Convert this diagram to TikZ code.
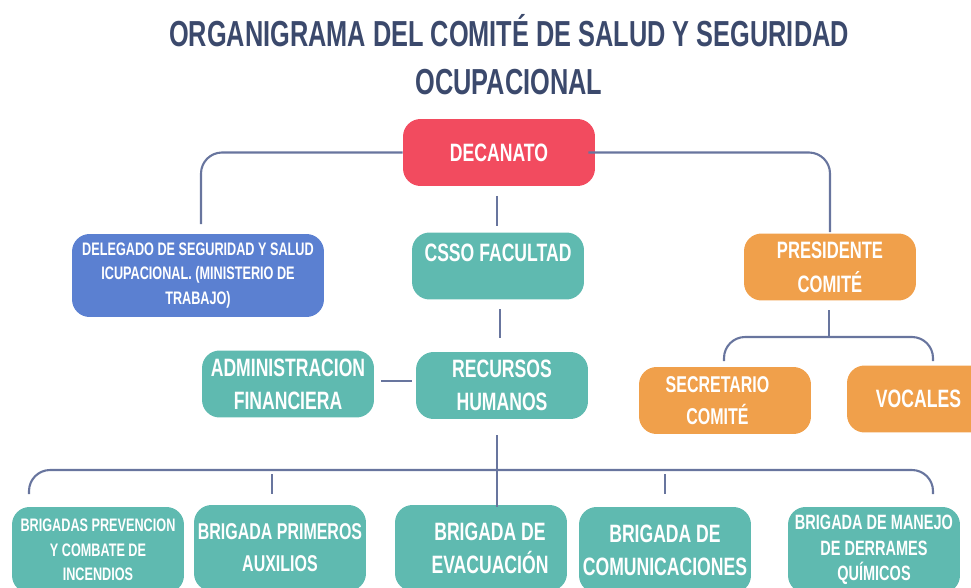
\documentclass[tikz,border=0pt]{standalone}
\usepackage{fontspec}
\setmainfont{Liberation Sans}[FakeStretch=0.7]
\usepackage{tikz}

\definecolor{navy}{RGB}{59,73,108}
\definecolor{linkgray}{RGB}{104,117,158}
\definecolor{redbox}{RGB}{242,75,95}
\definecolor{bluebox}{RGB}{91,128,209}
\definecolor{tealbox}{RGB}{95,186,176}
\definecolor{orangebox}{RGB}{240,160,75}

\tikzset{
    box/.style={rounded corners=10pt, text=white, font=\bfseries, align=center,
        minimum width=3.44cm, minimum height=1.34cm, inner sep=2pt},
    link/.style={draw=linkgray, line width=1.2pt, rounded corners=12pt},
    big/.style={font=\bfseries\fontsize{14.3}{18.8}\selectfont},
    small/.style={font=\bfseries\fontsize{10.3}{14}\selectfont}
}

\begin{document}
\begin{tikzpicture}[x=0.02cm, y=-0.02cm]
    \useasboundingbox (0,0) rectangle (971,588);
    \clip (0,0) rectangle (971,588);

    % Title
    \node[text=navy, font=\bfseries\fontsize{20.6}{27.3}\selectfont, align=center] (title) at (509,55)
        {ORGANIGRAMA DEL COMITÉ DE SALUD Y SEGURIDAD\\OCUPACIONAL};

    % Connector ends
    \coordinate (deleTop) at (201,224);
    \coordinate (presTop) at (830,232);
    \coordinate (decaBot) at (497,196);
    \coordinate (cssoTop) at (497,226);
    \coordinate (cssoBot) at (500,309);
    \coordinate (rrhhTop) at (500,338);
    \coordinate (adminR) at (381,381);
    \coordinate (rrhhL) at (412,381);
    \coordinate (presBot) at (829,310);
    \coordinate (presBus) at (829,337);
    \coordinate (secreTop) at (724,361);
    \coordinate (vocTop) at (933,361);
    \coordinate (rrhhBot) at (497,435);
    \coordinate (evacTop) at (497,507);
    \coordinate (brigBus) at (497,470);
    \coordinate (prevTop) at (29,494);
    \coordinate (manejoTop) at (933,494);
    \coordinate (auxTop) at (272,494);
    \coordinate (auxBus) at (272,474);
    \coordinate (comTop) at (665,494);
    \coordinate (comBus) at (665,474);

    % Boxes
    \node[box, big, fill=redbox, minimum width=3.84cm] (deca) at (499,152.5) {DECANATO};
    \node[box, small, fill=bluebox, minimum width=5.04cm, minimum height=1.66cm] (dele) at (198,275.5)
        {DELEGADO DE SEGURIDAD Y SALUD\\ICUPACIONAL. (MINISTERIO DE\\TRABAJO)};
    \node[box, big, fill=tealbox] (csso) at (498,266) {CSSO FACULTAD\\[-4pt]};
    \node[box, fill=orangebox, font=\bfseries\fontsize{13.5}{19.3}\selectfont] (pres) at (830,267) {PRESIDENTE\\COMITÉ};
    \node[box, big, fill=tealbox] (admin) at (288,384) {ADMINISTRACION\\FINANCIERA};
    \node[box, big, fill=tealbox] (rrhh) at (502,385.5) {RECURSOS\\HUMANOS};
    \node[box, fill=orangebox, font=\bfseries\fontsize{13}{18.2}\selectfont] (secre) at (725,400.5) {SECRETARIO\hspace*{0.3cm}\\COMITÉ\hspace*{0.3cm}};
    \node[box, big, fill=orangebox, minimum width=2.86cm] (voc) at (918.5,399) {VOCALES};

    % Brigades
    \node[box, small, fill=tealbox, minimum height=1.72cm] (prev) at (98,550)
        {BRIGADAS PREVENCION\\Y COMBATE DE\\INCENDIOS};
    \node[box, fill=tealbox, minimum height=1.72cm, font=\bfseries\fontsize{13}{18.2}\selectfont] (aux) at (280,548)
        {BRIGADA PRIMEROS\\AUXILIOS};
    \node[box, big, fill=tealbox, minimum height=1.72cm] (evac) at (481,548)
        {\hspace*{0.36cm}BRIGADA DE\\\hspace*{0.36cm}EVACUACIÓN};
    \node[box, big, fill=tealbox, minimum height=1.72cm] (com) at (665,550)
        {BRIGADA DE\\COMUNICACIONES};
    \node[box, fill=tealbox, minimum height=1.72cm, font=\bfseries\fontsize{11.8}{14.5}\selectfont] (manejo) at (874,550)
        {BRIGADA DE MANEJO\\DE DERRAMES\\QUÍMICOS};

    % Lines
    \draw[link] (deca.west) -| (deleTop);
    \draw[link] ([xshift=-0.14cm]deca.east) -| (presTop);
    \draw[link] (decaBot) -- (cssoTop);
    \draw[link] (cssoBot) -- (rrhhTop);
    \draw[link] (adminR) -- (rrhhL);
    \draw[link] (presBot) -- (presBus);
    \draw[link] (secreTop) |- (presBus) -| (vocTop);
    \draw[link] (rrhhBot) -- (evacTop);
    \draw[link] (prevTop) |- (brigBus) -| (manejoTop);
    \draw[link] (auxBus) -- (auxTop);
    \draw[link] (comBus) -- (comTop);
\end{tikzpicture}
\end{document}
